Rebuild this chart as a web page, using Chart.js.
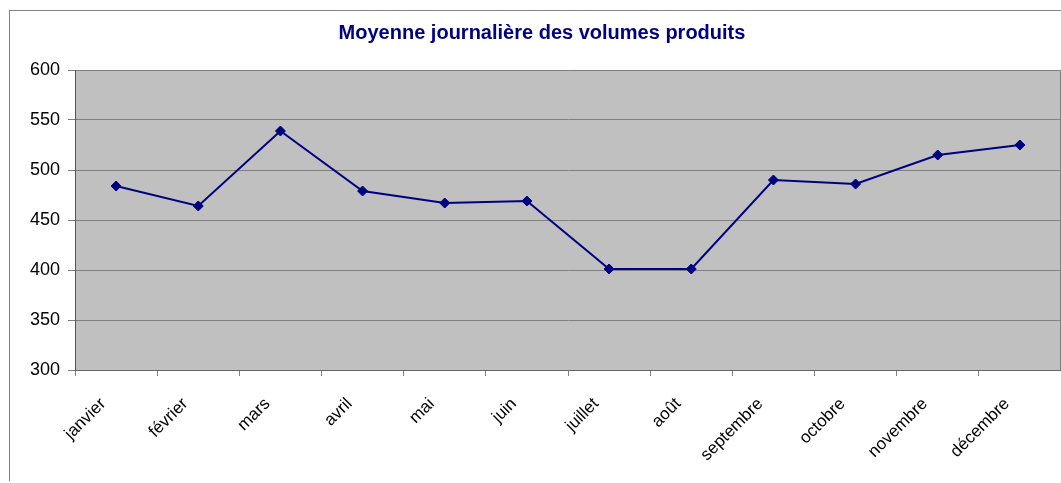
<!DOCTYPE html>
<html lang="fr">
<head>
<meta charset="utf-8">
<title>Moyenne journalière des volumes produits</title>
<script src="https://cdn.jsdelivr.net/npm/chart.js@4/dist/chart.umd.min.js"></script>
<style>
    html, body { margin: 0; padding: 0; background: #fff; overflow: hidden; }
    #cadre {
        position: absolute; left: 9px; top: 10px; width: 1100px; height: 470px;
        border-left: 1px solid #808080; border-top: 1px solid #808080;
    }
    #volumesChart { position: absolute; left: 0; top: 0; }
</style>
</head>
<body>
<div id="cadre"></div>
<canvas id="volumesChart" width="1067" height="483"></canvas>
<script>
// Mois et volumes moyens produits par jour
const mois = ['janvier', 'février', 'mars', 'avril', 'mai', 'juin',
    'juillet', 'août', 'septembre', 'octobre', 'novembre', 'décembre'];
const volumes = [484, 464, 539, 479, 467, 469, 401, 401, 490, 486, 515, 525];
const yMin = 300;
const yMax = 600;
const yPas = 50;

const police = '"Liberation Sans", Arimo, sans-serif';

// Fond gris de la zone de tracé + bord droit
const fondZone = {
    id: 'fondZone',
    beforeDraw(chart) {
        const { ctx, chartArea: a } = chart;
        ctx.save();
        ctx.fillStyle = '#c0c0c0';
        ctx.fillRect(a.left, a.top, a.right - a.left, a.bottom - a.top);
        ctx.restore();
    },
    afterDraw(chart) {
        const { ctx, chartArea: a } = chart;
        ctx.save();
        ctx.strokeStyle = '#808080';
        ctx.lineWidth = 1;
        ctx.beginPath();
        ctx.moveTo(Math.round(a.right) - 0.5, a.top);
        ctx.lineTo(Math.round(a.right) - 0.5, a.bottom);
        ctx.stroke();
        ctx.restore();
    }
};

const ctx = document.getElementById('volumesChart').getContext('2d');
const volumesChart = new Chart(ctx, {
    type: 'line',
    data: {
        labels: mois,
        datasets: [{
            label: 'Volumes',
            data: volumes,
            borderColor: '#000080',
            borderWidth: 2,
            backgroundColor: '#000080',
            pointStyle: 'rectRot',
            pointRadius: 5,
            pointBorderWidth: 1,
            pointBorderColor: '#000080',
            pointBackgroundColor: '#000080',
            tension: 0,
            fill: false
        }]
    },
    options: {
        responsive: false,
        animation: false,
        layout: { padding: { left: 17, right: 0, top: 10, bottom: 0 } },
        plugins: {
            legend: { display: false },
            tooltip: { enabled: false },
            title: {
                display: true,
                text: 'Moyenne journalière des volumes produits',
                color: '#000080',
                font: { family: police, size: 20, weight: 'bold' },
                padding: { top: 11, bottom: 25 }
            }
        },
        scales: {
            x: {
                offset: true,
                grid: {
                    offset: true,
                    drawOnChartArea: false,
                    drawTicks: true,
                    tickLength: 6,
                    color: '#808080'
                },
                border: { color: '#666666', width: 1 },
                ticks: {
                    autoSkip: false,
                    minRotation: 45,
                    maxRotation: 45,
                    padding: 18,
                    labelOffset: -13,
                    color: '#000',
                    font: { family: police, size: 17 }
                },
                afterFit(scale) { scale.height = 113; }
            },
            y: {
                min: yMin,
                max: yMax,
                grid: { color: '#808080', tickLength: 7 },
                border: { color: '#555555', width: 1 },
                ticks: {
                    stepSize: yPas,
                    padding: 8,
                    color: '#000',
                    font: { family: police, size: 18 }
                },
                afterFit(scale) { scale.width = 58; }
            }
        }
    },
    plugins: [fondZone]
});
</script>
</body>
</html>
